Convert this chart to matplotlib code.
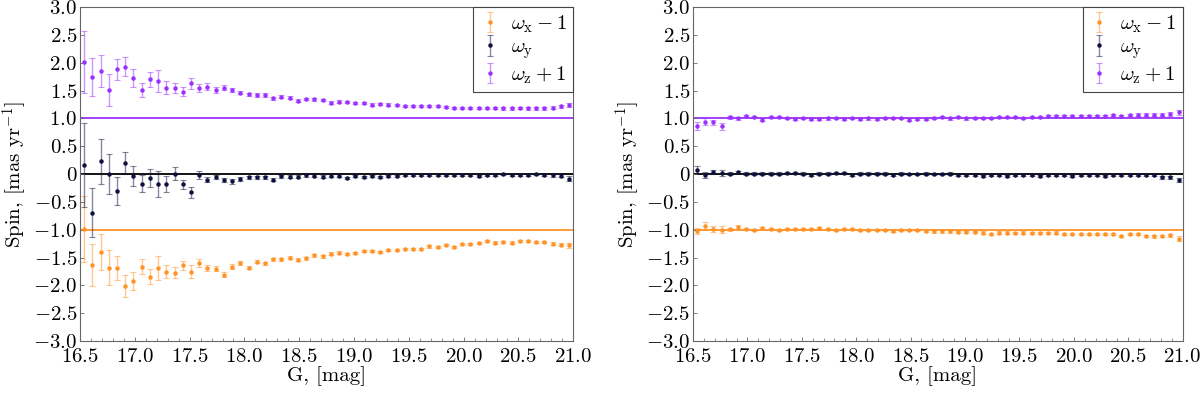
import numpy as np
import matplotlib
matplotlib.use("Agg")
import matplotlib.pyplot as plt
from matplotlib.ticker import MultipleLocator, FuncFormatter

plt.rcParams['font.family'] = 'serif'
plt.rcParams['font.serif'] = ['cmr10', 'DejaVu Serif']
plt.rcParams['mathtext.fontset'] = 'cm'
plt.rcParams['axes.formatter.use_mathtext'] = True

# bin centres in G magnitude (60 bins of 0.075 mag)
G = 16.5 + 0.075 * (np.arange(60) + 0.5)

# left panel
left_wx = [-0.98, -1.63, -1.40, -1.68, -1.69, -2.01, -1.92, -1.66, -1.84, -1.69,
           -1.75, -1.77, -1.64, -1.75, -1.59, -1.69, -1.70, -1.81, -1.66, -1.60,
           -1.68, -1.57, -1.60, -1.53, -1.53, -1.50, -1.54, -1.51, -1.46, -1.48,
           -1.43, -1.41, -1.44, -1.42, -1.38, -1.38, -1.40, -1.37, -1.36, -1.34,
           -1.35, -1.35, -1.30, -1.31, -1.28, -1.31, -1.26, -1.26, -1.24, -1.20,
           -1.23, -1.22, -1.23, -1.20, -1.20, -1.22, -1.22, -1.25, -1.27, -1.28]
left_wy = [0.16, -0.69, 0.23, 0.00, -0.31, 0.20, -0.04, -0.17, -0.07, -0.18,
           -0.18, 0.01, -0.18, -0.33, -0.01, -0.10, -0.05, -0.11, -0.13, -0.08,
           -0.06, -0.06, -0.06, -0.10, -0.04, -0.05, -0.05, -0.02, -0.03, -0.05,
           -0.03, -0.03, -0.07, -0.04, -0.05, -0.03, -0.05, -0.04, -0.03, -0.02,
           -0.02, -0.02, -0.02, -0.02, -0.01, -0.02, -0.02, -0.02, -0.04, -0.01,
           -0.01, 0.00, -0.02, -0.02, -0.02, 0.00, -0.02, -0.02, -0.03, -0.08]
left_wz = [2.01, 1.75, 1.85, 1.51, 1.88, 1.93, 1.72, 1.51, 1.70, 1.67,
           1.55, 1.55, 1.48, 1.63, 1.55, 1.57, 1.51, 1.55, 1.51, 1.46,
           1.43, 1.42, 1.42, 1.36, 1.39, 1.37, 1.32, 1.35, 1.34, 1.33,
           1.28, 1.30, 1.29, 1.28, 1.28, 1.25, 1.26, 1.25, 1.24, 1.22,
           1.22, 1.22, 1.22, 1.22, 1.21, 1.19, 1.19, 1.19, 1.19, 1.19,
           1.19, 1.18, 1.18, 1.19, 1.18, 1.18, 1.18, 1.19, 1.22, 1.24]
left_ex = [0.59, 0.38, 0.33, 0.32, 0.21, 0.19, 0.16, 0.14, 0.14, 0.22,
           0.12, 0.10, 0.08, 0.11, 0.07, 0.05, 0.045, 0.045, 0.04, 0.035,
           0.03, 0.03, 0.03, 0.03, 0.03, 0.025, 0.025, 0.025, 0.025, 0.025,
           0.025, 0.025, 0.02, 0.02, 0.02, 0.02, 0.02, 0.02, 0.02, 0.02,
           0.02, 0.02, 0.02, 0.02, 0.02, 0.02, 0.02, 0.02, 0.02, 0.02,
           0.02, 0.02, 0.02, 0.02, 0.02, 0.02, 0.02, 0.025, 0.025, 0.04]
left_ey = [0.75, 0.44, 0.40, 0.36, 0.25, 0.20, 0.18, 0.15, 0.16, 0.24,
           0.14, 0.11, 0.08, 0.10, 0.07, 0.05, 0.04, 0.04, 0.04, 0.035,
           0.03, 0.03, 0.03, 0.03, 0.03, 0.025, 0.025, 0.025, 0.025, 0.025,
           0.025, 0.025, 0.02, 0.02, 0.02, 0.02, 0.02, 0.02, 0.02, 0.02,
           0.02, 0.02, 0.02, 0.02, 0.02, 0.02, 0.02, 0.02, 0.02, 0.02,
           0.02, 0.02, 0.02, 0.02, 0.02, 0.02, 0.02, 0.025, 0.025, 0.04]
left_ez = [0.56, 0.34, 0.29, 0.28, 0.19, 0.17, 0.16, 0.13, 0.14, 0.20,
           0.12, 0.09, 0.08, 0.10, 0.07, 0.065, 0.05, 0.045, 0.035, 0.03,
           0.03, 0.03, 0.03, 0.03, 0.03, 0.025, 0.025, 0.025, 0.025, 0.025,
           0.025, 0.025, 0.02, 0.02, 0.02, 0.02, 0.02, 0.02, 0.02, 0.02,
           0.02, 0.02, 0.02, 0.02, 0.02, 0.02, 0.02, 0.02, 0.02, 0.02,
           0.02, 0.02, 0.02, 0.02, 0.02, 0.02, 0.02, 0.025, 0.025, 0.04]

# right panel
right_wx = [-1.02, -0.93, -0.99, -1.00, -0.99, -0.95, -0.99, -1.01, -0.97, -0.99,
            -1.00, -0.98, -0.98, -0.99, -0.98, -0.97, -0.99, -1.00, -0.99, -0.99,
            -1.00, -1.01, -1.01, -1.00, -1.02, -1.01, -1.01, -1.01, -1.02, -1.03,
            -1.03, -1.03, -1.04, -1.04, -1.04, -1.05, -1.07, -1.05, -1.05, -1.06,
            -1.05, -1.06, -1.06, -1.06, -1.05, -1.08, -1.08, -1.08, -1.08, -1.08,
            -1.08, -1.08, -1.11, -1.08, -1.08, -1.11, -1.12, -1.11, -1.10, -1.16]
right_wy = [0.08, -0.02, 0.04, 0.02, 0.01, 0.04, 0.01, 0.01, 0.01, 0.01,
            0.01, 0.02, 0.02, 0.01, -0.01, 0.01, 0.01, 0.02, 0.02, -0.01,
            0.01, 0.01, 0.01, 0.01, -0.01, 0.01, 0.00, 0.00, 0.01, 0.00,
            0.00, 0.01, -0.02, -0.02, -0.02, -0.03, -0.02, -0.02, -0.03, -0.02,
            -0.02, -0.02, -0.03, -0.02, -0.02, -0.02, -0.03, -0.02, -0.02, -0.02,
            -0.03, -0.02, -0.02, -0.02, -0.02, -0.02, -0.02, -0.06, -0.06, -0.11]
right_wz = [0.86, 0.94, 0.93, 0.86, 1.02, 1.00, 1.04, 1.02, 0.98, 1.02,
            1.02, 1.01, 0.99, 1.01, 0.99, 0.99, 1.00, 1.01, 0.99, 1.01,
            0.99, 1.00, 0.99, 1.01, 1.01, 1.01, 0.98, 0.99, 0.99, 1.01,
            1.02, 1.00, 1.02, 1.00, 1.01, 1.01, 1.01, 1.02, 1.03, 1.02,
            1.01, 1.02, 1.03, 1.04, 1.04, 1.04, 1.04, 1.05, 1.05, 1.05,
            1.05, 1.06, 1.05, 1.06, 1.07, 1.07, 1.07, 1.07, 1.08, 1.11]
right_ex = [0.05, 0.07, 0.05, 0.06, 0.03, 0.03, 0.02, 0.02, 0.02, 0.02,
            0.02, 0.02, 0.02, 0.02, 0.02, 0.02, 0.02, 0.02, 0.02, 0.02,
            0.02, 0.02, 0.02, 0.02, 0.02, 0.02, 0.02, 0.02, 0.02, 0.02,
            0.02, 0.02, 0.02, 0.02, 0.02, 0.02, 0.02, 0.02, 0.02, 0.02,
            0.02, 0.02, 0.02, 0.02, 0.02, 0.02, 0.02, 0.02, 0.02, 0.02,
            0.02, 0.02, 0.02, 0.02, 0.02, 0.02, 0.02, 0.025, 0.03, 0.04]
right_ey = [0.06, 0.05, 0.04, 0.06, 0.02, 0.02, 0.02, 0.02, 0.02, 0.02,
            0.02, 0.02, 0.02, 0.02, 0.02, 0.02, 0.02, 0.02, 0.02, 0.02,
            0.02, 0.02, 0.02, 0.02, 0.02, 0.02, 0.02, 0.02, 0.02, 0.02,
            0.02, 0.02, 0.02, 0.02, 0.02, 0.02, 0.02, 0.02, 0.02, 0.02,
            0.02, 0.02, 0.02, 0.02, 0.02, 0.02, 0.02, 0.02, 0.02, 0.02,
            0.02, 0.02, 0.02, 0.02, 0.02, 0.02, 0.02, 0.025, 0.03, 0.04]
right_ez = [0.07, 0.06, 0.05, 0.06, 0.03, 0.02, 0.02, 0.02, 0.02, 0.02,
            0.02, 0.02, 0.02, 0.02, 0.02, 0.02, 0.02, 0.02, 0.02, 0.02,
            0.02, 0.02, 0.02, 0.02, 0.02, 0.02, 0.02, 0.02, 0.02, 0.02,
            0.02, 0.02, 0.02, 0.02, 0.02, 0.02, 0.02, 0.02, 0.02, 0.02,
            0.02, 0.02, 0.02, 0.02, 0.02, 0.02, 0.02, 0.02, 0.02, 0.02,
            0.02, 0.02, 0.02, 0.02, 0.02, 0.02, 0.02, 0.025, 0.03, 0.04]

labels = [r'$\omega_{\rm x} - 1$', r'$\omega_{\rm y}$', r'$\omega_{\rm z} + 1$']
colors = ['#ff9326', '#101040', '#9b30ff']
ref_levels = [-1, 0, 1]
line_colors = ['#ff9326', '#000000', '#9b30ff']

panels = [
    (left_wx, left_wy, left_wz, left_ex, left_ey, left_ez),
    (right_wx, right_wy, right_wz, right_ex, right_ey, right_ez),
]


def yfmt(v, pos):
    if abs(v) < 1e-9:
        return '$0$'
    return '$%.1f$' % v


fig = plt.figure(figsize=(12, 3.93), dpi=100)
axes = [fig.add_axes([0.0667, 0.132, 0.411, 0.850]),
        fig.add_axes([0.5775, 0.132, 0.408, 0.850])]

for ax, p in zip(axes, panels):
    vals = p[:3]
    errs = p[3:]
    for lev, lc in zip(ref_levels, line_colors):
        ax.axhline(lev, color=lc, lw=1.3, zorder=1)
    for v, e, c, lab in zip(vals, errs, colors, labels):
        ax.errorbar(G, v, yerr=e, fmt='o', ms=2.2, color=c, mec=c,
                    ecolor=matplotlib.colors.to_rgba(c, 0.5), elinewidth=1.0,
                    capsize=2, capthick=0.8, label=lab, zorder=3)
    ax.set_xlim(16.5, 21.0)
    ax.set_ylim(-3.0, 3.0)
    ax.xaxis.set_major_locator(MultipleLocator(0.5))
    ax.xaxis.set_minor_locator(MultipleLocator(0.1))
    ax.yaxis.set_major_locator(MultipleLocator(0.5))
    ax.xaxis.set_major_formatter(FuncFormatter(lambda v, pos: '$%.1f$' % v))
    ax.yaxis.set_major_formatter(FuncFormatter(yfmt))
    ax.tick_params(which='both', direction='in', colors='#666666',
                   labelcolor='black', labelsize=15)
    ax.tick_params(axis='y', pad=2)
    ax.tick_params(axis='x', pad=5)
    ax.tick_params(which='major', length=3, width=0.6)
    ax.tick_params(which='minor', length=2, width=0.5)
    for s in ax.spines.values():
        s.set_color('#666666')
        s.set_linewidth(0.8)
    ax.set_xlabel('G, [mag]', fontsize=15, labelpad=0)
    ax.set_ylabel(r'Spin, [mas yr$^{-1}$]', fontsize=15, labelpad=3)
    leg = ax.legend(loc='upper right', fontsize=15, frameon=True, fancybox=False,
                    edgecolor='#444444', framealpha=1, borderaxespad=0,
                    handlelength=1.0, handletextpad=0.5, labelspacing=0.15,
                    borderpad=0.3)
    leg.get_frame().set_linewidth(0.8)

fig.savefig('out.png', dpi=100)
